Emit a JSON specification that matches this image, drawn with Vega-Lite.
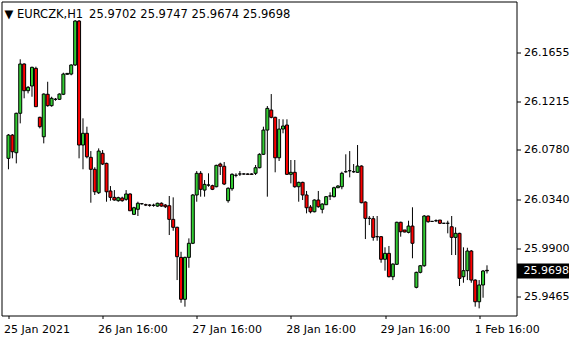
{
"$schema": "https://vega.github.io/schema/vega-lite/v6.json",
"width": 515, "height": 314,
"autosize": {"type": "none"},
"padding": {"left": 1.5, "top": 1.5, "right": 63.5, "bottom": 24.5},
"background": "white",
"config": {"view": {"stroke": "black", "strokeWidth": 1}, "font": "DejaVu Sans"},
"title": {"text": "▼ EURCZK,H1\u00a0\u200925.9702 25.9747 25.9674 25.9698", "anchor": "start", "frame": "group", "offset": -15, "baseline": "alphabetic", "dx": 3, "dy": 13, "font": "DejaVu Sans", "fontSize": 11.5, "fontWeight": "normal", "color": "black"},
"data": {"values": [
{"i":1,"o":26.0704,"h":26.0921,"l":26.0606,"c":26.0912},
{"i":2,"o":26.0912,"h":26.0921,"l":26.0704,"c":26.0763},
{"i":3,"o":26.0754,"h":26.1112,"l":26.0659,"c":26.1107},
{"i":4,"o":26.1107,"h":26.1590,"l":26.1017,"c":26.1548},
{"i":5,"o":26.1548,"h":26.1554,"l":26.1241,"c":26.1309},
{"i":6,"o":26.1309,"h":26.1351,"l":26.1285,"c":26.1339},
{"i":7,"o":26.1351,"h":26.1524,"l":26.1255,"c":26.1518},
{"i":8,"o":26.1509,"h":26.1524,"l":26.1166,"c":26.1166},
{"i":9,"o":26.1071,"h":26.1076,"l":26.0972,"c":26.0987},
{"i":10,"o":26.0897,"h":26.1285,"l":26.0838,"c":26.1279},
{"i":11,"o":26.1277,"h":26.1389,"l":26.1166,"c":26.1175},
{"i":12,"o":26.1175,"h":26.1255,"l":26.1166,"c":26.1241},
{"i":13,"o":26.1232,"h":26.1244,"l":26.1219,"c":26.1232},
{"i":14,"o":26.1232,"h":26.1285,"l":26.1226,"c":26.1279},
{"i":15,"o":26.1277,"h":26.1470,"l":26.1270,"c":26.1458},
{"i":16,"o":26.1456,"h":26.1467,"l":26.1452,"c":26.1464},
{"i":17,"o":26.1458,"h":26.1545,"l":26.1447,"c":26.1539},
{"i":18,"o":26.1539,"h":26.1941,"l":26.1530,"c":26.1932},
{"i":19,"o":26.1932,"h":26.1941,"l":26.0704,"c":26.0823},
{"i":20,"o":26.0823,"h":26.1062,"l":26.0606,"c":26.0928},
{"i":21,"o":26.0928,"h":26.0987,"l":26.0704,"c":26.0718},
{"i":22,"o":26.0713,"h":26.0769,"l":26.0307,"c":26.0606},
{"i":23,"o":26.0606,"h":26.0624,"l":26.0376,"c":26.0405},
{"i":24,"o":26.0396,"h":26.0793,"l":26.0385,"c":26.0769},
{"i":25,"o":26.0749,"h":26.0778,"l":26.0644,"c":26.0653},
{"i":26,"o":26.0659,"h":26.0665,"l":26.0316,"c":26.0405},
{"i":27,"o":26.0412,"h":26.0456,"l":26.0325,"c":26.0355},
{"i":28,"o":26.0355,"h":26.0420,"l":26.0325,"c":26.0331},
{"i":29,"o":26.0325,"h":26.0361,"l":26.0316,"c":26.0352},
{"i":30,"o":26.0349,"h":26.0361,"l":26.0316,"c":26.0325},
{"i":31,"o":26.0337,"h":26.0420,"l":26.0325,"c":26.0385},
{"i":32,"o":26.0385,"h":26.0391,"l":26.0233,"c":26.0235},
{"i":33,"o":26.0203,"h":26.0271,"l":26.0197,"c":26.0262},
{"i":34,"o":26.0248,"h":26.0316,"l":26.0188,"c":26.0302},
{"i":35,"o":26.0298,"h":26.0304,"l":26.0289,"c":26.0298},
{"i":36,"o":26.0289,"h":26.0298,"l":26.0277,"c":26.0286},
{"i":37,"o":26.0286,"h":26.0295,"l":26.0271,"c":26.0284},
{"i":38,"o":26.0284,"h":26.0298,"l":26.0271,"c":26.0284},
{"i":39,"o":26.0277,"h":26.0307,"l":26.0271,"c":26.0302},
{"i":40,"o":26.0302,"h":26.0310,"l":26.0271,"c":26.0277},
{"i":41,"o":26.0286,"h":26.0295,"l":26.0259,"c":26.0271},
{"i":42,"o":26.0280,"h":26.0367,"l":26.0018,"c":26.0158},
{"i":43,"o":26.0158,"h":26.0355,"l":26.0056,"c":26.0087},
{"i":44,"o":26.0087,"h":26.0092,"l":25.9615,"c":25.9824},
{"i":45,"o":25.9818,"h":25.9868,"l":25.9412,"c":25.9443},
{"i":46,"o":25.9443,"h":25.9824,"l":25.9377,"c":25.9818},
{"i":47,"o":25.9818,"h":25.9988,"l":25.9725,"c":25.9944},
{"i":48,"o":25.9944,"h":26.0385,"l":25.9937,"c":26.0376},
{"i":49,"o":26.0376,"h":26.0590,"l":26.0316,"c":26.0570},
{"i":50,"o":26.0570,"h":26.0590,"l":26.0361,"c":26.0427},
{"i":51,"o":26.0420,"h":26.0510,"l":26.0361,"c":26.0471},
{"i":52,"o":26.0465,"h":26.0570,"l":26.0450,"c":26.0465},
{"i":53,"o":26.0459,"h":26.0468,"l":26.0420,"c":26.0427},
{"i":54,"o":26.0450,"h":26.0647,"l":26.0445,"c":26.0641},
{"i":55,"o":26.0653,"h":26.0665,"l":26.0555,"c":26.0633},
{"i":56,"o":26.0633,"h":26.0671,"l":26.0465,"c":26.0474},
{"i":57,"o":26.0325,"h":26.0445,"l":26.0307,"c":26.0436},
{"i":58,"o":26.0432,"h":26.0570,"l":26.0414,"c":26.0561},
{"i":59,"o":26.0552,"h":26.0570,"l":26.0534,"c":26.0552},
{"i":60,"o":26.0564,"h":26.0590,"l":26.0546,"c":26.0564},
{"i":61,"o":26.0564,"h":26.0570,"l":26.0557,"c":26.0564},
{"i":62,"o":26.0564,"h":26.0570,"l":26.0557,"c":26.0561},
{"i":63,"o":26.0564,"h":26.0570,"l":26.0555,"c":26.0561},
{"i":64,"o":26.0570,"h":26.0644,"l":26.0555,"c":26.0620},
{"i":65,"o":26.0620,"h":26.0749,"l":26.0615,"c":26.0740},
{"i":66,"o":26.0740,"h":26.0987,"l":26.0734,"c":26.0957},
{"i":67,"o":26.0957,"h":26.1172,"l":26.0361,"c":26.1151},
{"i":68,"o":26.1136,"h":26.1279,"l":26.1062,"c":26.1071},
{"i":69,"o":26.1071,"h":26.1076,"l":26.0579,"c":26.0709},
{"i":70,"o":26.0709,"h":26.1056,"l":26.0680,"c":26.0966},
{"i":71,"o":26.0966,"h":26.1053,"l":26.0928,"c":26.0993},
{"i":72,"o":26.1002,"h":26.1053,"l":26.0555,"c":26.0561},
{"i":73,"o":26.0561,"h":26.0689,"l":26.0480,"c":26.0579},
{"i":74,"o":26.0579,"h":26.0689,"l":26.0441,"c":26.0450},
{"i":75,"o":26.0450,"h":26.0495,"l":26.0316,"c":26.0489},
{"i":76,"o":26.0489,"h":26.0495,"l":26.0331,"c":26.0376},
{"i":77,"o":26.0376,"h":26.0412,"l":26.0212,"c":26.0262},
{"i":78,"o":26.0268,"h":26.0286,"l":26.0212,"c":26.0226},
{"i":79,"o":26.0226,"h":26.0337,"l":26.0221,"c":26.0331},
{"i":80,"o":26.0331,"h":26.0412,"l":26.0262,"c":26.0271},
{"i":81,"o":26.0248,"h":26.0302,"l":26.0212,"c":26.0295},
{"i":82,"o":26.0289,"h":26.0367,"l":26.0287,"c":26.0361},
{"i":83,"o":26.0367,"h":26.0400,"l":26.0331,"c":26.0367},
{"i":84,"o":26.0361,"h":26.0450,"l":26.0355,"c":26.0441},
{"i":85,"o":26.0441,"h":26.0465,"l":26.0438,"c":26.0456},
{"i":86,"o":26.0450,"h":26.0584,"l":26.0427,"c":26.0570},
{"i":87,"o":26.0584,"h":26.0740,"l":26.0575,"c":26.0584},
{"i":88,"o":26.0593,"h":26.0769,"l":26.0534,"c":26.0593},
{"i":89,"o":26.0584,"h":26.0653,"l":26.0575,"c":26.0584},
{"i":90,"o":26.0579,"h":26.0823,"l":26.0575,"c":26.0635},
{"i":91,"o":26.0635,"h":26.0641,"l":26.0302,"c":26.0307},
{"i":92,"o":26.0313,"h":26.0319,"l":25.9982,"c":26.0167},
{"i":93,"o":26.0167,"h":26.0188,"l":26.0107,"c":26.0167},
{"i":94,"o":26.0164,"h":26.0188,"l":25.9967,"c":25.9997},
{"i":95,"o":26.0003,"h":26.0188,"l":25.9967,"c":26.0003},
{"i":96,"o":26.0003,"h":26.0009,"l":25.9770,"c":25.9801},
{"i":97,"o":25.9801,"h":25.9908,"l":25.9699,"c":25.9854},
{"i":98,"o":25.9854,"h":25.9920,"l":25.9639,"c":25.9645},
{"i":99,"o":25.9645,"h":25.9765,"l":25.9615,"c":25.9758},
{"i":100,"o":25.9756,"h":26.0137,"l":25.9750,"c":26.0132},
{"i":101,"o":26.0132,"h":26.0137,"l":26.0003,"c":26.0047},
{"i":102,"o":26.0063,"h":26.0063,"l":26.0042,"c":26.0045},
{"i":103,"o":26.0042,"h":26.0146,"l":26.0033,"c":26.0098},
{"i":104,"o":26.0098,"h":26.0266,"l":25.9810,"c":25.9944},
{"i":105,"o":25.9550,"h":25.9690,"l":25.9541,"c":25.9684},
{"i":106,"o":25.9684,"h":25.9750,"l":25.9675,"c":25.9743},
{"i":107,"o":25.9743,"h":26.0197,"l":25.9734,"c":26.0188},
{"i":108,"o":26.0188,"h":26.0191,"l":26.0128,"c":26.0137},
{"i":109,"o":26.0140,"h":26.0143,"l":26.0137,"c":26.0140},
{"i":110,"o":26.0146,"h":26.0158,"l":26.0134,"c":26.0146},
{"i":111,"o":26.0152,"h":26.0152,"l":26.0116,"c":26.0123},
{"i":112,"o":26.0123,"h":26.0125,"l":26.0119,"c":26.0123},
{"i":113,"o":26.0123,"h":26.0146,"l":26.0033,"c":26.0123},
{"i":114,"o":26.0092,"h":26.0188,"l":25.9839,"c":25.9997},
{"i":115,"o":25.9997,"h":26.0087,"l":25.9839,"c":26.0033},
{"i":116,"o":26.0033,"h":26.0038,"l":25.9562,"c":25.9630},
{"i":117,"o":25.9645,"h":25.9908,"l":25.9591,"c":25.9699},
{"i":118,"o":25.9699,"h":25.9904,"l":25.9615,"c":25.9875},
{"i":119,"o":25.9875,"h":25.9884,"l":25.9591,"c":25.9615},
{"i":120,"o":25.9615,"h":25.9622,"l":25.9377,"c":25.9421},
{"i":121,"o":25.9421,"h":25.9615,"l":25.9362,"c":25.9571},
{"i":122,"o":25.9571,"h":25.9705,"l":25.9457,"c":25.9696},
{"i":123,"o":25.9702,"h":25.9747,"l":25.9674,"c":25.9698}
]},
"layer": [
 {"layer": [
  {"mark": {"type": "rule", "color": "black", "strokeWidth": 1},
   "encoding": {
    "x": {"field": "i", "type": "quantitative", "scale": {"domain": [0.5, 129.25], "nice": false, "zero": false},
      "axis": {"values": [1, 25, 49, 73, 97, 121], "labelExpr": "datum.value == 1 ? '25 Jan 2021' : datum.value == 25 ? '26 Jan 16:00' : datum.value == 49 ? '27 Jan 16:00' : datum.value == 73 ? '28 Jan 16:00' : datum.value == 97 ? '29 Jan 16:00' : '1 Feb 16:00'", "labelAlign": "left", "labelBaseline": "top", "labelOffset": -5, "tickSize": 3, "labelPadding": 5, "domain": false, "grid": false, "title": null, "labelFont": "DejaVu Sans", "labelFontSize": 11, "labelColor": "black", "tickColor": "black", "labelFlush": false, "labelOverlap": false, "labelBound": false}},
    "y": {"field": "l", "type": "quantitative", "scale": {"domain": [25.9298, 26.2107], "nice": false, "zero": false},
      "axis": {"orient": "right", "values": [25.9465, 25.99, 26.034, 26.078, 26.1215, 26.1655], "format": ".4f", "tickSize": 4, "labelPadding": 3, "labelBaseline": "middle", "domain": false, "grid": false, "title": null, "labelFont": "DejaVu Sans", "labelFontSize": 11, "labelColor": "black", "tickColor": "black", "labelOverlap": false, "labelBound": false, "labelFlush": false}},
    "y2": {"field": "h"}
   }},
  {"mark": {"type": "bar", "size": 3, "stroke": "black", "strokeWidth": 1},
   "encoding": {
    "x": {"field": "i", "type": "quantitative"},
    "y": {"field": "o", "type": "quantitative"},
    "y2": {"field": "c"},
    "fill": {"condition": {"test": "datum.c >= datum.o", "value": "#32cd32"}, "value": "#ff0000"}
   }}
 ]},
 {"data": {"values": [{"p": 25.9698}]},
  "mark": {"type": "point", "opacity": 0},
  "encoding": {
   "y": {"field": "p", "type": "quantitative", "scale": {"domain": [25.9298, 26.2107], "nice": false, "zero": false},
     "axis": {"orient": "right", "values": [25.9698], "format": ".4f", "tickSize": 52, "tickWidth": 15, "tickColor": "black", "labelColor": "white", "labelPadding": -45.5, "labelBaseline": "middle", "labelFont": "DejaVu Sans", "labelFontSize": 11, "domain": false, "grid": false, "title": null, "labelOverlap": false, "labelBound": false, "labelFlush": false}}
  }}
],
"resolve": {"scale": {"y": "independent"}}
}
